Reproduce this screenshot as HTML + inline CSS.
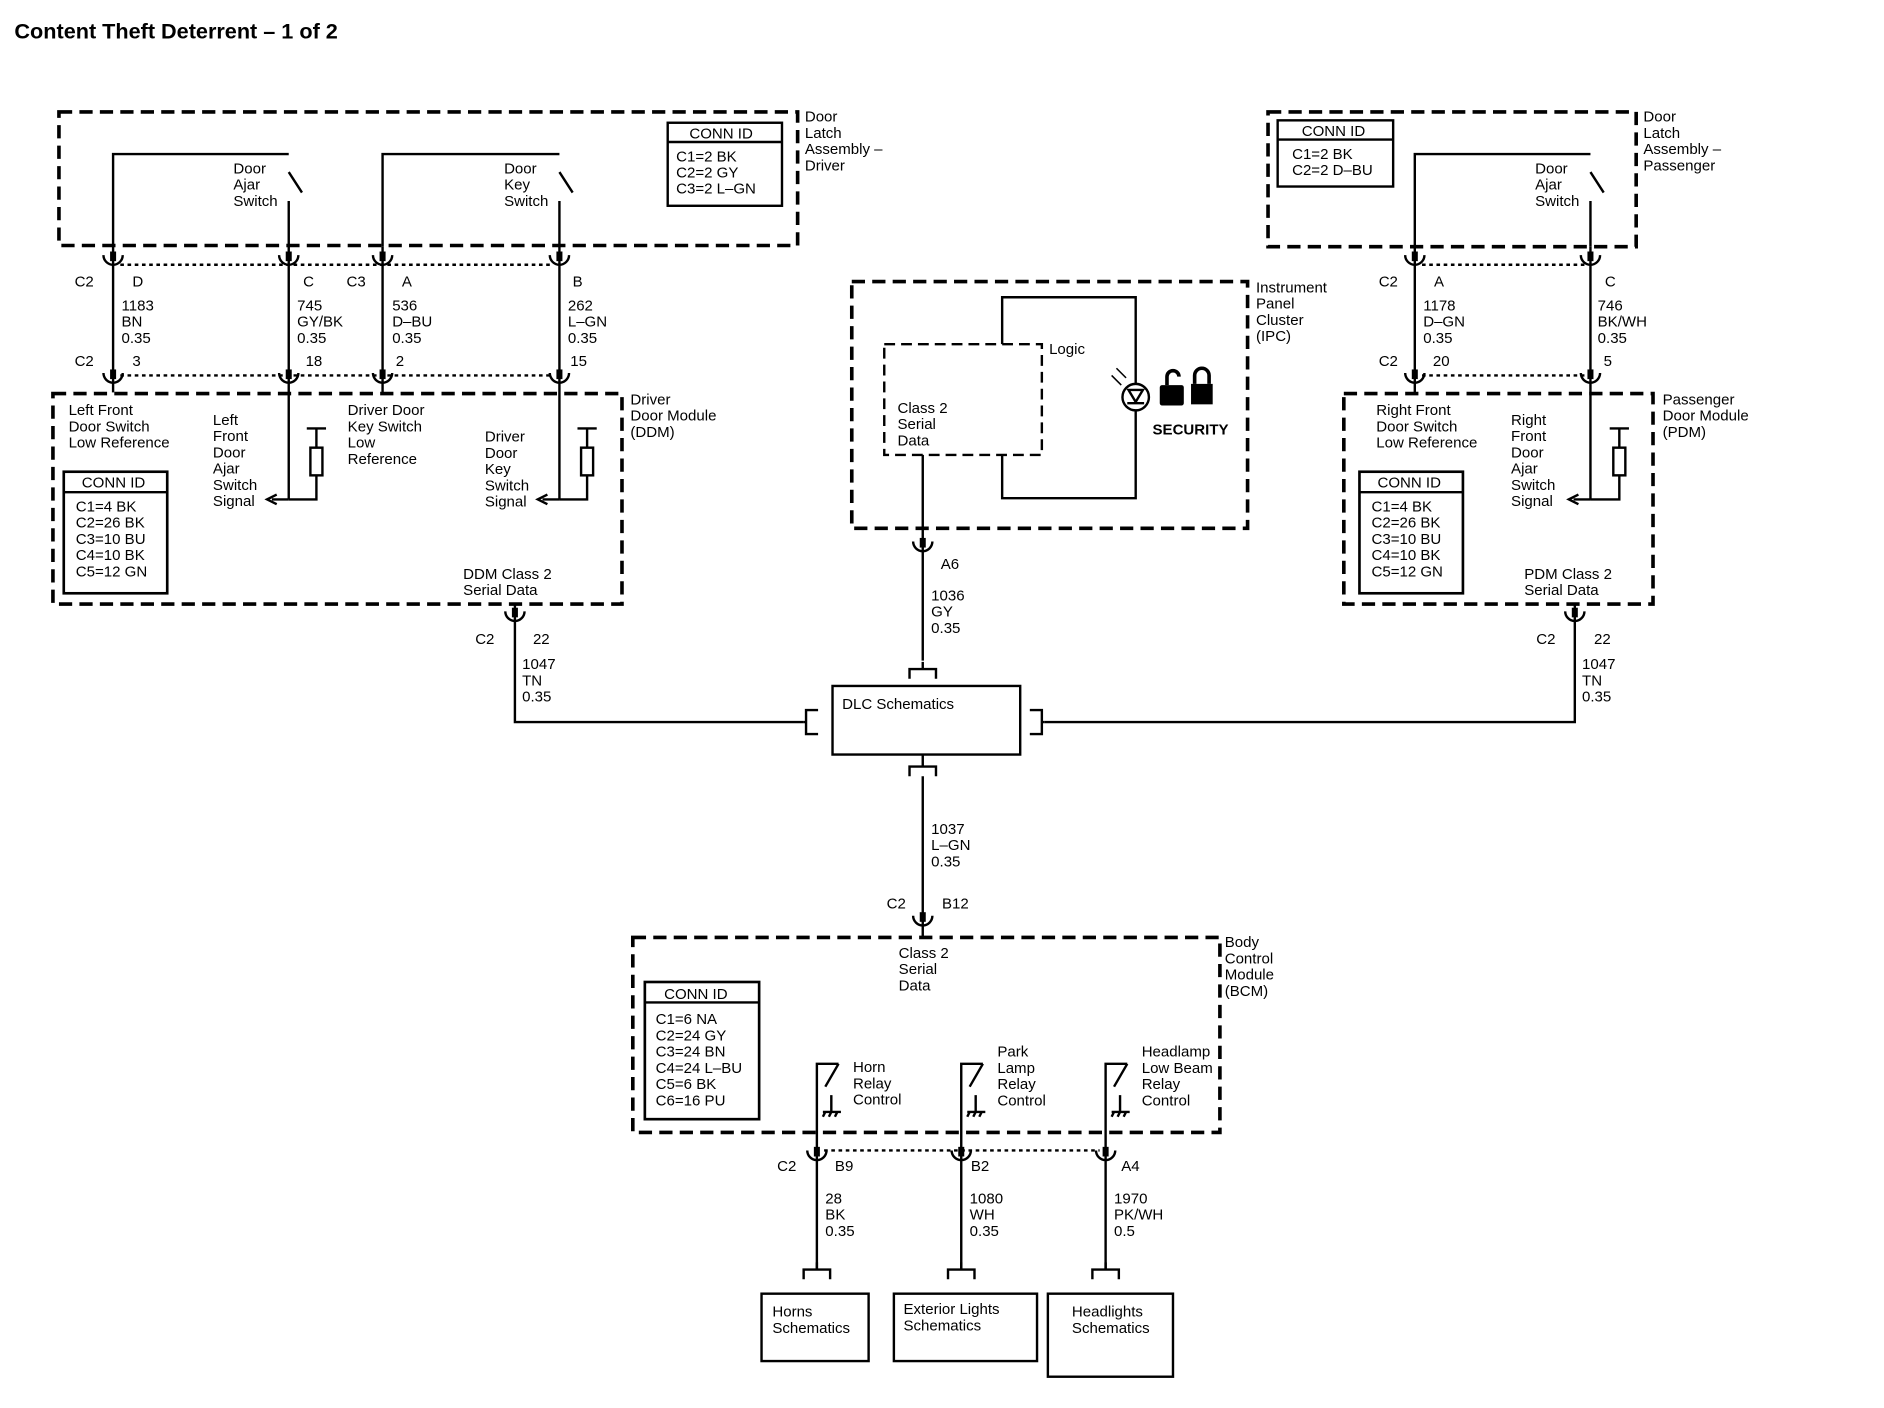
<!DOCTYPE html>
<html><head><meta charset="utf-8"><style>
html,body{margin:0;padding:0;background:#fff;}
svg{display:block}
text{font-family:"Liberation Sans",Arial,sans-serif;font-size:12.5px;fill:#000}
.b{font-weight:bold}
.d{fill:none;stroke:#000;stroke-width:3;stroke-dasharray:11 6}
.s{fill:none;stroke:#000;stroke-width:2}
.t{fill:none;stroke:#000;stroke-width:2.2}
.dot{fill:none;stroke:#000;stroke-width:2;stroke-dasharray:3 3}
</style></head><body>
<svg width="1884" height="1408" viewBox="0 0 1566 1170" preserveAspectRatio="none" xmlns="http://www.w3.org/2000/svg">
<defs>
<g id="cn"><path d="M-8,-6 A8 8 0 0 0 8,-6" class="s"/><rect x="-2.5" y="-9" width="5" height="8" fill="#000"/></g>
<g id="br"><path d="M-11,8 L-11,0 L11,0 L11,8 M0,0 L0,-6" class="s"/></g>
</defs>
<text x="12" y="32" class="b" style="font-size:18px">Content Theft Deterrent – 1 of 2</text>

<!-- Driver latch -->
<rect x="49" y="93" width="614" height="111" class="d"/>
<text x="669" y="101"><tspan x="669">Door</tspan><tspan x="669" dy="13.5">Latch</tspan><tspan x="669" dy="13.5">Assembly –</tspan><tspan x="669" dy="13.5">Driver</tspan></text>
<rect x="555" y="102" width="95" height="69" class="s"/><line x1="555" y1="118" x2="650" y2="118" class="s"/>
<text x="573" y="115">CONN ID</text>
<text x="562" y="134"><tspan x="562">C1=2 BK</tspan><tspan x="562" dy="13.5">C2=2 GY</tspan><tspan x="562" dy="13.5">C3=2 L–GN</tspan></text>
<path d="M94,205 V128 H240 M240,143 L251,160 M240,167 V205" class="s"/>
<path d="M318,205 V128 H465 M465,143 L476,160 M465,167 V205" class="s"/>
<text x="194" y="144"><tspan x="194">Door</tspan><tspan x="194" dy="13.5">Ajar</tspan><tspan x="194" dy="13.5">Switch</tspan></text>
<text x="419" y="144"><tspan x="419">Door</tspan><tspan x="419" dy="13.5">Key</tspan><tspan x="419" dy="13.5">Switch</tspan></text>
<line x1="100" y1="220" x2="460" y2="220" class="dot"/>
<line x1="100" y1="312" x2="460" y2="312" class="dot"/>
<path d="M94,205V326M240,205V415M318,205V326M465,205V415" class="s"/>
<use href="#cn" x="94" y="218"/><use href="#cn" x="240" y="218"/><use href="#cn" x="318" y="218"/><use href="#cn" x="465" y="218"/>
<use href="#cn" x="94" y="316"/><use href="#cn" x="240" y="316"/><use href="#cn" x="318" y="316"/><use href="#cn" x="465" y="316"/>
<text x="62" y="238">C2</text><text x="110" y="238">D</text><text x="252" y="238">C</text><text x="288" y="238">C3</text><text x="334" y="238">A</text><text x="476" y="238">B</text>
<text x="101" y="258"><tspan x="101">1183</tspan><tspan x="101" dy="13.5">BN</tspan><tspan x="101" dy="13.5">0.35</tspan></text>
<text x="247" y="258"><tspan x="247">745</tspan><tspan x="247" dy="13.5">GY/BK</tspan><tspan x="247" dy="13.5">0.35</tspan></text>
<text x="326" y="258"><tspan x="326">536</tspan><tspan x="326" dy="13.5">D–BU</tspan><tspan x="326" dy="13.5">0.35</tspan></text>
<text x="472" y="258"><tspan x="472">262</tspan><tspan x="472" dy="13.5">L–GN</tspan><tspan x="472" dy="13.5">0.35</tspan></text>
<text x="62" y="304">C2</text><text x="110" y="304">3</text><text x="254" y="304">18</text><text x="329" y="304">2</text><text x="474" y="304">15</text>

<!-- DDM -->
<rect x="44" y="327" width="473" height="175" class="d"/>
<text x="524" y="336"><tspan x="524">Driver</tspan><tspan x="524" dy="13.5">Door Module</tspan><tspan x="524" dy="13.5">(DDM)</tspan></text>
<text x="57" y="345"><tspan x="57">Left Front</tspan><tspan x="57" dy="13.5">Door Switch</tspan><tspan x="57" dy="13.5">Low Reference</tspan></text>
<text x="177" y="353"><tspan x="177">Left</tspan><tspan x="177" dy="13.5">Front</tspan><tspan x="177" dy="13.5">Door</tspan><tspan x="177" dy="13.5">Ajar</tspan><tspan x="177" dy="13.5">Switch</tspan><tspan x="177" dy="13.5">Signal</tspan></text>
<text x="289" y="345"><tspan x="289">Driver Door</tspan><tspan x="289" dy="13.5">Key Switch</tspan><tspan x="289" dy="13.5">Low</tspan><tspan x="289" dy="13.5">Reference</tspan></text>
<text x="403" y="367"><tspan x="403">Driver</tspan><tspan x="403" dy="13.5">Door</tspan><tspan x="403" dy="13.5">Key</tspan><tspan x="403" dy="13.5">Switch</tspan><tspan x="403" dy="13.5">Signal</tspan></text>
<path d="M240,415H226M230,411L222,415L230,419" class="s"/>
<path d="M255,356H271M263,356V372M263,395V415H240" class="s"/><rect x="258" y="372" width="10" height="23" class="s"/>
<path d="M465,415H451M455,411L447,415L455,419" class="s"/>
<path d="M480,356H496M488,356V372M488,395V415H465" class="s"/><rect x="483" y="372" width="10" height="23" class="s"/>
<rect x="53" y="392" width="86" height="101" class="t"/><line x1="53" y1="409" x2="139" y2="409" class="s"/>
<text x="68" y="405">CONN ID</text>
<text x="63" y="425"><tspan x="63">C1=4 BK</tspan><tspan x="63" dy="13.5">C2=26 BK</tspan><tspan x="63" dy="13.5">C3=10 BU</tspan><tspan x="63" dy="13.5">C4=10 BK</tspan><tspan x="63" dy="13.5">C5=12 GN</tspan></text>
<text x="385" y="481"><tspan x="385">DDM Class 2</tspan><tspan x="385" dy="13.5">Serial Data</tspan></text>
<use href="#cn" x="428" y="514"/>
<text x="395" y="535">C2</text><text x="443" y="535">22</text>
<text x="434" y="556"><tspan x="434">1047</tspan><tspan x="434" dy="13.5">TN</tspan><tspan x="434" dy="13.5">0.35</tspan></text>
<path d="M428,502V600H668" class="s"/>

<!-- IPC -->
<rect x="708" y="234" width="329" height="205" class="d"/>
<text x="1044" y="243"><tspan x="1044">Instrument</tspan><tspan x="1044" dy="13.5">Panel</tspan><tspan x="1044" dy="13.5">Cluster</tspan><tspan x="1044" dy="13.5">(IPC)</tspan></text>
<path d="M833,286V247H944V414H833V378" class="s"/>
<rect x="735" y="286" width="131" height="92" class="s" style="stroke-dasharray:9 5"/>
<text x="872" y="294">Logic</text>
<text x="746" y="343"><tspan x="746">Class 2</tspan><tspan x="746" dy="13.5">Serial</tspan><tspan x="746" dy="13.5">Data</tspan></text>
<circle cx="944" cy="330" r="11" style="fill:#fff;stroke:#000;stroke-width:2"/><path d="M938,324L944,334L950,324ZM937,335H951" class="s"/>
<path d="M924,312L932,320M928,306L936,314" class="s" style="stroke-width:1.3"/>
<rect x="964" y="320" width="20" height="17" rx="2" fill="#000"/><path d="M970,320V313A5 5 0 0 1 980,313" class="s" style="stroke-width:3"/>
<rect x="990" y="319" width="18" height="17" fill="#000"/><path d="M993,319V312A6 6 0 0 1 1005,312V319" class="s" style="stroke-width:3"/>
<text x="958" y="361" class="b">SECURITY</text>
<path d="M767,378V549" class="s"/>
<use href="#cn" x="767" y="456"/>
<text x="782" y="473">A6</text>
<text x="774" y="499"><tspan x="774">1036</tspan><tspan x="774" dy="13.5">GY</tspan><tspan x="774" dy="13.5">0.35</tspan></text>

<!-- DLC -->
<rect x="692" y="570" width="156" height="57" class="s"/>
<text x="700" y="589">DLC Schematics</text>
<use href="#br" x="767" y="556"/>
<path d="M756,645V637H778V645M767,637V627" class="s"/>
<path d="M680,590H670V610H680M670,600H668" class="s"/>
<path d="M856,590H866V610H856M866,600H868" class="s"/>

<!-- Passenger latch -->
<rect x="1054" y="93" width="306" height="112" class="d"/>
<text x="1366" y="101"><tspan x="1366">Door</tspan><tspan x="1366" dy="13.5">Latch</tspan><tspan x="1366" dy="13.5">Assembly –</tspan><tspan x="1366" dy="13.5">Passenger</tspan></text>
<rect x="1062" y="100" width="96" height="55" class="s"/><line x1="1062" y1="116" x2="1158" y2="116" class="s"/>
<text x="1082" y="113">CONN ID</text>
<text x="1074" y="132"><tspan x="1074">C1=2 BK</tspan><tspan x="1074" dy="13.5">C2=2 D–BU</tspan></text>
<path d="M1176,205V128H1322M1322,143L1333,160M1322,167V205" class="s"/>
<text x="1276" y="144"><tspan x="1276">Door</tspan><tspan x="1276" dy="13.5">Ajar</tspan><tspan x="1276" dy="13.5">Switch</tspan></text>
<line x1="1182" y1="220" x2="1318" y2="220" class="dot"/>
<line x1="1182" y1="312" x2="1318" y2="312" class="dot"/>
<path d="M1176,205V326M1322,205V415" class="s"/>
<use href="#cn" x="1176" y="218"/><use href="#cn" x="1322" y="218"/><use href="#cn" x="1176" y="316"/><use href="#cn" x="1322" y="316"/>
<text x="1146" y="238">C2</text><text x="1192" y="238">A</text><text x="1334" y="238">C</text>
<text x="1183" y="258"><tspan x="1183">1178</tspan><tspan x="1183" dy="13.5">D–GN</tspan><tspan x="1183" dy="13.5">0.35</tspan></text>
<text x="1328" y="258"><tspan x="1328">746</tspan><tspan x="1328" dy="13.5">BK/WH</tspan><tspan x="1328" dy="13.5">0.35</tspan></text>
<text x="1146" y="304">C2</text><text x="1191" y="304">20</text><text x="1333" y="304">5</text>

<!-- PDM -->
<rect x="1117" y="327" width="257" height="175" class="d"/>
<text x="1382" y="336"><tspan x="1382">Passenger</tspan><tspan x="1382" dy="13.5">Door Module</tspan><tspan x="1382" dy="13.5">(PDM)</tspan></text>
<text x="1144" y="345"><tspan x="1144">Right Front</tspan><tspan x="1144" dy="13.5">Door Switch</tspan><tspan x="1144" dy="13.5">Low Reference</tspan></text>
<text x="1256" y="353"><tspan x="1256">Right</tspan><tspan x="1256" dy="13.5">Front</tspan><tspan x="1256" dy="13.5">Door</tspan><tspan x="1256" dy="13.5">Ajar</tspan><tspan x="1256" dy="13.5">Switch</tspan><tspan x="1256" dy="13.5">Signal</tspan></text>
<path d="M1322,415H1308M1312,411L1304,415L1312,419" class="s"/>
<path d="M1338,356H1354M1346,356V372M1346,395V415H1322" class="s"/><rect x="1341" y="372" width="10" height="23" class="s"/>
<rect x="1130" y="392" width="86" height="101" class="t"/><line x1="1130" y1="409" x2="1216" y2="409" class="s"/>
<text x="1145" y="405">CONN ID</text>
<text x="1140" y="425"><tspan x="1140">C1=4 BK</tspan><tspan x="1140" dy="13.5">C2=26 BK</tspan><tspan x="1140" dy="13.5">C3=10 BU</tspan><tspan x="1140" dy="13.5">C4=10 BK</tspan><tspan x="1140" dy="13.5">C5=12 GN</tspan></text>
<text x="1267" y="481"><tspan x="1267">PDM Class 2</tspan><tspan x="1267" dy="13.5">Serial Data</tspan></text>
<use href="#cn" x="1309" y="514"/>
<text x="1277" y="535">C2</text><text x="1325" y="535">22</text>
<text x="1315" y="556"><tspan x="1315">1047</tspan><tspan x="1315" dy="13.5">TN</tspan><tspan x="1315" dy="13.5">0.35</tspan></text>
<path d="M1309,502V600H868" class="s"/>

<!-- lower -->
<path d="M767,645V779" class="s"/>
<text x="774" y="693"><tspan x="774">1037</tspan><tspan x="774" dy="13.5">L–GN</tspan><tspan x="774" dy="13.5">0.35</tspan></text>
<text x="737" y="755">C2</text><text x="783" y="755">B12</text>
<use href="#cn" x="767" y="767"/>
<rect x="526" y="779" width="488" height="162" class="d"/>
<text x="1018" y="787"><tspan x="1018">Body</tspan><tspan x="1018" dy="13.5">Control</tspan><tspan x="1018" dy="13.5">Module</tspan><tspan x="1018" dy="13.5">(BCM)</tspan></text>
<text x="747" y="796"><tspan x="747">Class 2</tspan><tspan x="747" dy="13.5">Serial</tspan><tspan x="747" dy="13.5">Data</tspan></text>
<rect x="536" y="816" width="95" height="114" class="t"/><line x1="536" y1="833" x2="631" y2="833" class="s"/>
<text x="552" y="830">CONN ID</text>
<text x="545" y="851"><tspan x="545">C1=6 NA</tspan><tspan x="545" dy="13.5">C2=24 GY</tspan><tspan x="545" dy="13.5">C3=24 BN</tspan><tspan x="545" dy="13.5">C4=24 L–BU</tspan><tspan x="545" dy="13.5">C5=6 BK</tspan><tspan x="545" dy="13.5">C6=16 PU</tspan></text>
<path d="M679,1055V884H697M697,884L686,903M691,910V924M684,924H699M686,924L684,928M691,924L689,928M696,924L694,928" class="s"/>
<path d="M799,1055V884H817M817,884L806,903M811,910V924M804,924H819M806,924L804,928M811,924L809,928M816,924L814,928" class="s"/>
<path d="M919,1055V884H937M937,884L926,903M931,910V924M924,924H939M926,924L924,928M931,924L929,928M936,924L934,928" class="s"/>
<text x="709" y="891"><tspan x="709">Horn</tspan><tspan x="709" dy="13.5">Relay</tspan><tspan x="709" dy="13.5">Control</tspan></text>
<text x="829" y="878"><tspan x="829">Park</tspan><tspan x="829" dy="13.5">Lamp</tspan><tspan x="829" dy="13.5">Relay</tspan><tspan x="829" dy="13.5">Control</tspan></text>
<text x="949" y="878"><tspan x="949">Headlamp</tspan><tspan x="949" dy="13.5">Low Beam</tspan><tspan x="949" dy="13.5">Relay</tspan><tspan x="949" dy="13.5">Control</tspan></text>
<line x1="685" y1="956" x2="914" y2="956" class="dot"/>
<use href="#cn" x="679" y="962"/><use href="#cn" x="799" y="962"/><use href="#cn" x="919" y="962"/>
<text x="646" y="973">C2</text><text x="694" y="973">B9</text><text x="807" y="973">B2</text><text x="932" y="973">A4</text>
<text x="686" y="1000"><tspan x="686">28</tspan><tspan x="686" dy="13.5">BK</tspan><tspan x="686" dy="13.5">0.35</tspan></text>
<text x="806" y="1000"><tspan x="806">1080</tspan><tspan x="806" dy="13.5">WH</tspan><tspan x="806" dy="13.5">0.35</tspan></text>
<text x="926" y="1000"><tspan x="926">1970</tspan><tspan x="926" dy="13.5">PK/WH</tspan><tspan x="926" dy="13.5">0.5</tspan></text>
<use href="#br" x="679" y="1055"/><use href="#br" x="799" y="1055"/><use href="#br" x="919" y="1055"/>
<rect x="633" y="1075" width="89" height="56" class="s"/>
<rect x="743" y="1075" width="119" height="56" class="s"/>
<rect x="871" y="1075" width="104" height="69" class="s"/>
<text x="642" y="1094"><tspan x="642">Horns</tspan><tspan x="642" dy="13.5">Schematics</tspan></text>
<text x="751" y="1092"><tspan x="751">Exterior Lights</tspan><tspan x="751" dy="13.5">Schematics</tspan></text>
<text x="891" y="1094"><tspan x="891">Headlights</tspan><tspan x="891" dy="13.5">Schematics</tspan></text>
</svg>
</body></html>
